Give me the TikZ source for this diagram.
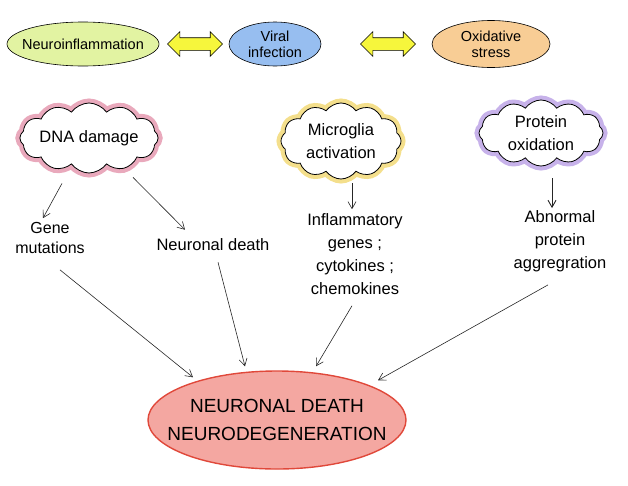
\documentclass[tikz,border=0pt]{standalone}
\usepackage{fontspec}
\setmainfont{Liberation Sans}
\usepackage{tikz}
\usetikzlibrary{arrows.meta,positioning,shapes.geometric,shapes.symbols,shapes.arrows}
\definecolor{lime}{HTML}{E2F3A2}
\definecolor{sky}{HTML}{97BEF0}
\definecolor{peach}{HTML}{F8CD95}
\definecolor{lemon}{HTML}{F6F63C}
\definecolor{rosy}{HTML}{E9A9BC}
\definecolor{straw}{HTML}{F4DF8C}
\definecolor{lilac}{HTML}{C7B2EA}
\definecolor{salmon}{HTML}{F4A7A1}
\definecolor{brick}{HTML}{E0483A}

\begin{document}
\begin{tikzpicture}[x=1pt,y=-1pt,
  font=\fontsize{16.5}{23}\selectfont,
  oval/.style={ellipse,draw=black,line width=0.6pt,align=center,inner xsep=-12,inner ysep=-2,font=\fontsize{14.5}{16}\selectfont},
  dbl/.style={double arrow,draw=black,fill=lemon,line width=0.6pt,minimum height=55,minimum width=0,inner sep=6,double arrow head extend=6},
  puff/.style={cloud,cloud puffs=12,cloud puff arc=110,cloud ignores aspect,draw=black,fill=white,line width=0.8pt,align=center,inner sep=0pt},
  lbl/.style={align=center,inner sep=1pt},
  arr/.style={-{Straight Barb[length=7pt,width=8pt]},line width=0.6pt,draw=black!85}]
\useasboundingbox (0,0) rectangle (628,485);
% top row
\node[oval,fill=lime,minimum width=152,minimum height=44] (neu) at (83,44) {Neuroinflammation};
\node[oval,fill=sky,minimum width=92,minimum height=44] (vir) at (275,44) {Viral\\infection};
\node[oval,fill=peach,minimum width=118,minimum height=47] (oxi) at (491,44) {Oxidative\\stress};
\node[dbl] (d1) at (195,44) {};
\node[dbl] (d2) at (388,44) {};
% clouds
\node[puff,preaction={draw=rosy,line width=9pt},minimum width=138,minimum height=70] (dna) at (89,138) {DNA damage};
\node[puff,preaction={draw=straw,line width=9pt},minimum width=120,minimum height=76] (mic) at (341,141) {Microglia\\activation};
\node[puff,preaction={draw=lilac,line width=9pt},minimum width=124,minimum height=66] (pro) at (541,133) {Protein\\oxidation};
% middle texts
\node[lbl,font=\fontsize{16}{20}\selectfont] (gen) at (50,238) {Gene\\mutations};
\node[lbl] (nd) at (213,245) {Neuronal death};
\node[lbl] (inf) at (355,254) {Inflammatory\\genes ;\\cytokines ;\\chemokines};
\node[lbl] (abn) at (560,241) {Abnormal\\protein\\aggregration};
% outcome
\node[ellipse,draw=brick,fill=salmon,line width=1.4pt,minimum width=258,minimum height=98,align=center,inner xsep=-22,inner ysep=-4,font=\fontsize{19}{28}\selectfont] (out) at (277,420) {NEURONAL DEATH\\NEURODEGENERATION};
\draw[arr] ([xshift=-27,yshift=-10]dna.south) -- ([xshift=-7,yshift=3]gen.north);
\draw[arr] ([xshift=44,yshift=-4]dna.south) -- ([xshift=-28,yshift=8]nd.north);
\draw[arr] ([xshift=11,yshift=-4]mic.south) -- ([xshift=-3,yshift=3]inf.north);
\draw[arr,line width=0.9pt] ([xshift=11,yshift=-12]pro.south) -- ([xshift=-8,yshift=1]abn.north);
\draw[arr] ([xshift=10,yshift=-15]gen.south) -- ([xshift=-84,yshift=-7]out.north);
\draw[arr] ([xshift=5,yshift=-10]nd.south) -- ([xshift=-32,yshift=4]out.north);
\draw[arr] ([xshift=-3,yshift=-10]inf.south) -- ([xshift=39,yshift=4]out.north);
\draw[arr] ([xshift=-12,yshift=-12]abn.south) -- ([xshift=101,yshift=-10]out.north);
\end{tikzpicture}
\end{document}
